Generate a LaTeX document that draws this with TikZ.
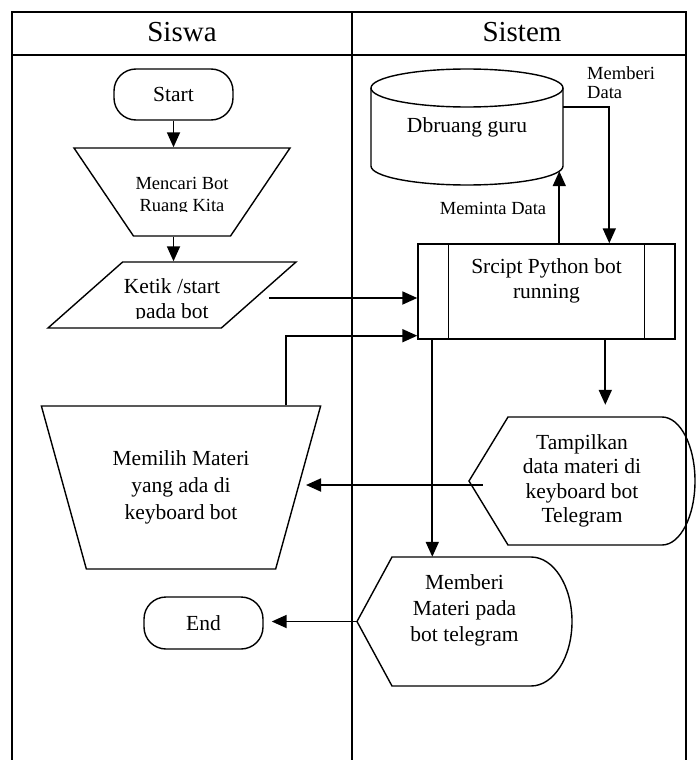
\documentclass[tikz,border=0pt]{standalone}
\usepackage{fontspec}
\setmainfont{Liberation Serif}
\usetikzlibrary{shapes.geometric,shapes.misc,arrows.meta,calc}
\begin{document}
\begin{tikzpicture}[x=1pt,y=-1pt,
  frame/.style={line width=2pt},
  shp/.style={draw, line width=1.4pt},
  conn/.style={line width=1.8pt},
  arr/.style={conn,-{Triangle[length=15pt,width=13pt]}},
  hdr/.style={font=\fontsize{29}{34}\selectfont},
  txt/.style={font=\fontsize{21.5}{25.5}\selectfont, align=center},
  small/.style={font=\fontsize{18.5}{21.5}\selectfont, align=center},
]
\useasboundingbox (0,0) rectangle (696,760);

% frame
\draw[frame] (12,761) -- (12,12) -- (686,12) -- (686,761);
\draw[frame] (12,55) -- (686,55);
\draw[frame] (352,12) -- (352,761);
\node[hdr] (hsiswa) at (182,32) {Siswa};
\node[hdr] (hsistem) at (522,32) {Sistem};

% Siswa lane
\node[shp, rectangle, rounded corners=22pt, minimum width=119pt, minimum height=51pt, txt] (start) at (173.5,94.5) {\raisebox{-2pt}{Start}};
\node[shp, trapezium, shape border rotate=180, trapezium angle=58.5, trapezium stretches=true, minimum width=216pt, minimum height=88pt] (mencari) at (182,192) {};
\begin{scope}
  \clip (60,140) rectangle (300,211.5);
  \node[small, font=\fontsize{18.5}{22}\selectfont] (mencaritxt) at (182,196) {Mencari Bot\\Ruang Kita};
\end{scope}
\node[shp, trapezium, trapezium left angle=52.9, trapezium right angle=127.1, trapezium stretches=true, minimum width=248pt, minimum height=66pt] (ketik) at (172,295) {};
\begin{scope}
  \clip (40,250) rectangle (300,318.5);
  \node[txt] (ketiktxt) at (172,301) {Ketik /start\\pada bot};
\end{scope}
\node[shp, trapezium, shape border rotate=180, trapezium angle=67, trapezium stretches=true, minimum width=280pt, minimum height=163pt, txt, font=\fontsize{21.5}{27}\selectfont] (memilih) at (181,487.5) {Memilih Materi\\yang ada di\\keyboard bot};
\node[shp, rectangle, rounded corners=22pt, minimum width=119pt, minimum height=52pt, txt] (end) at (203.5,623) {\raisebox{-2pt}{End}};

% Sistem lane
\node[minimum width=192pt, minimum height=116pt, inner sep=0pt, txt] (db) at (467,127) {\raisebox{-2pt}{Dbruang guru}};
\draw[shp] (467,88) ellipse[x radius=96, y radius=19];
\draw[shp] (371,88) -- (371,166) arc[start angle=180, end angle=0, x radius=96, y radius=19] -- (563,88);
\node[small, inner sep=0pt, align=left, anchor=west, font=\fontsize{18.5}{19.5}\selectfont] (lblberi) at (587,82.5) {Memberi\\Data};
\node[small] (lblminta) at (493,208) {Meminta Data};

\node[shp, rectangle, minimum width=257pt, minimum height=95pt, txt] (proc) at (546.5,291.5) {Srcipt Python bot\\running\\\mbox{}};
\draw[shp] ($(proc.north west)+(31,0)$) -- ($(proc.south west)+(31,0)$);
\draw[shp] ($(proc.north east)+(-31,0)$) -- ($(proc.south east)+(-31,0)$);

\node[minimum width=226pt, minimum height=128pt, inner sep=0pt, txt, font=\fontsize{21.5}{24.5}\selectfont] (tamp) at (582,481) {Tampilkan\\data materi di\\keyboard bot\\Telegram};
\draw[shp] (469,481) -- (508,417) -- (662,417) arc[start angle=-90, end angle=90, x radius=33, y radius=64] -- (508,545) -- cycle;

\node[minimum width=215pt, minimum height=129pt, inner sep=0pt, txt, font=\fontsize{21.5}{26}\selectfont] (memb) at (464.5,621.5) {Memberi\\Materi pada\\bot telegram\\\mbox{}};
\draw[shp] (357,621.5) -- (392,557) -- (531,557) arc[start angle=-90, end angle=90, x radius=41, y radius=64.5] -- (392,686) -- cycle;

% connector helper points
\coordinate (ketikout) at ($(ketik.center)+(97,3)$);
\coordinate (memtop) at ($(memilih.north)+(105,0)$);
\coordinate (memright) at ($(memilih.center)+(125,0)$);
\coordinate (procin) at ($(proc.south west)+(0,-4)$);
\coordinate (dbout) at ($(db.north east)+(0,38)$);
\coordinate (procin2) at ($(proc.north west)+(192,0)$);
\coordinate (procup) at ($(proc.north west)+(142,0)$);
\coordinate (dbin) at ($(db.south west)+(189,-14)$);
\coordinate (procdownA) at ($(proc.south west)+(15,0)$);
\coordinate (procdownB) at ($(proc.south west)+(188,0)$);
\coordinate (tampout) at ($(tamp.west)+(14,4)$);

% connectors
\draw[arr] (start.south) -- (start.south |- mencari.north);
\draw[arr] (start.south |- mencari.south) -- (start.south |- ketik.north);
\draw[arr] (ketikout) -- (ketikout -| proc.west);
\draw[arr] (memtop) |- (procin);
\draw[arr] (dbout) -| (procin2);
\draw[arr] (procup) -- (procup |- dbin);
\draw[arr] (procdownA) -- (procdownA |- memb.north);
\draw[arr, shorten >=12pt] (procdownB) -- (procdownB |- tamp.north);
\draw[arr] (tampout) -- (tampout -| memright);
\draw[arr, shorten >=8pt] (memb.west) -- (memb.west -| end.east);
\end{tikzpicture}
\end{document}
